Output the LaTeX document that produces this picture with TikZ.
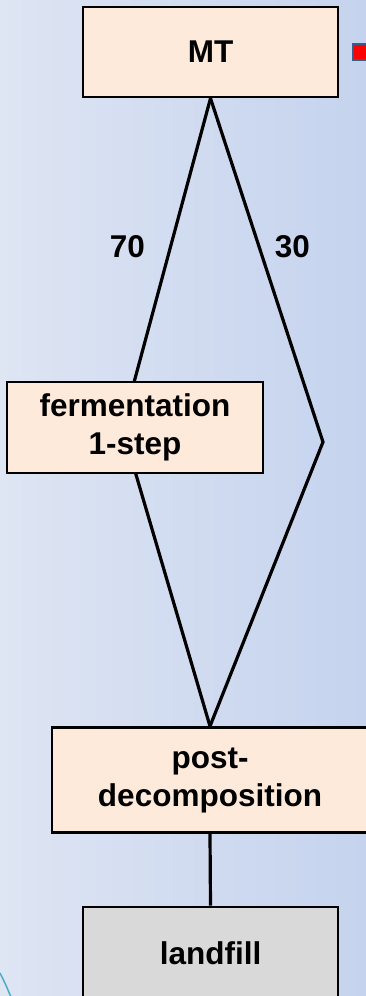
\documentclass[tikz,border=0pt]{standalone}
\usepackage{fontspec}
\setmainfont{Liberation Sans}
\usepackage{xcolor}
\usepackage{tikz}
\usetikzlibrary{positioning, calc, backgrounds}

\definecolor{boxpeach}{RGB}{253,234,218}
\definecolor{boxgrey}{RGB}{217,217,217}
\definecolor{bgleft}{RGB}{222,229,243}
\definecolor{bgright}{RGB}{197,211,238}
\definecolor{markblue}{RGB}{56,93,138}
\definecolor{arccyan}{RGB}{75,172,198}

\tikzset{
  stage/.style={draw=black, line width=2.6pt, fill=boxpeach, align=center,
    inner sep=0pt, font=\fontsize{31.5}{38}\selectfont\bfseries},
  share/.style={font=\fontsize{31.5}{38}\selectfont\bfseries},
  flow/.style={draw=black, line width=3.2pt}
}

\begin{document}
\begin{tikzpicture}[x=1pt, y=-1pt]
    \useasboundingbox (0,0) rectangle (366,996);
    \node(MT) at (210.5,52) [stage, minimum width=255pt, minimum height=90pt] {MT};
    \node(FE) at (135,427.5) [stage, minimum width=256pt, minimum height=91pt] {fermentation\\1-step};
    \node(PD) at (210,780) [stage, minimum width=316pt, minimum height=105pt] {post-\\decomposition};
    \node(LF) at (210.5,953) [stage, fill=boxgrey, minimum width=255pt, minimum height=92pt] {landfill};
    \node(S70) at (127.5,246.5) [share] {70};
    \node(S30) at (292.5,246.5) [share] {30};
    \coordinate(FV) at (122,427);
    \coordinate(RV) at (323,442);
    % marker at the top right
    \draw[markblue, line width=2pt, fill=red] (353,44) rectangle (376,60);
    \begin{scope}[on background layer]
      \shade[left color=bgleft, right color=bgright] (0,0) rectangle (366,996);
      \draw[arccyan, line width=1.5pt] (0,973) .. controls (5,983) .. (11,997);
      \draw[flow] (MT.south) -- (FV) -- (PD.north);
      \draw[flow] (MT.south) -- (RV) -- (PD.north);
      \draw[flow] (PD.south) -- (LF.north);
    \end{scope}
  \end{tikzpicture}
\end{document}
